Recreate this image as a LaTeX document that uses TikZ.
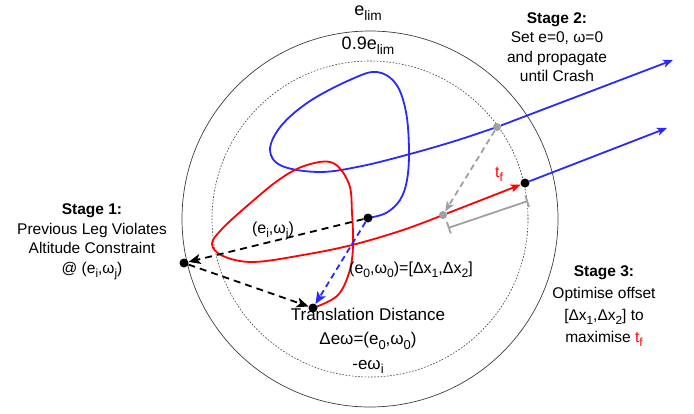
\documentclass[tikz,border=0pt]{standalone}
\usepackage{fontspec}
\usepackage{graphicx}
\setmainfont{Liberation Sans}
\usetikzlibrary{arrows.meta}
\definecolor{myblue}{RGB}{40,40,255}
\definecolor{myred}{RGB}{255,0,0}
\definecolor{mygray}{RGB}{160,160,160}
\definecolor{circgray}{RGB}{60,60,60}
\newcommand\sbs[1]{\raisebox{-0.5ex}{\scalebox{0.76}{#1}}}
\begin{document}
\begin{tikzpicture}[x=1pt,y=-1pt,
  bdot/.style={circle,fill=black,inner sep=0pt,minimum size=9pt},
  gdot/.style={circle,fill=mygray,inner sep=0pt,minimum size=8pt},
  traj/.style={line width=1.8pt},
  tip/.style={-{Stealth[length=10pt,width=8pt,inset=2.5pt]}},
  bigtip/.style={-{Stealth[length=12pt,width=10pt,inset=3pt]}},
  blkdash/.style={line width=1.8pt,dash pattern=on 7pt off 5pt},
  lbl/.style={font=\fontsize{16}{19}\selectfont,inner sep=1pt},
  stagetxt/.style={align=center,font=\fontsize{15.5}{19.5}\selectfont,inner sep=1pt},
  limtxt/.style={font=\fontsize{18}{20}\selectfont,inner sep=1pt}]
\useasboundingbox (0,0) rectangle (694,413);

% circles
\node[circle,draw=circgray,line width=0.7pt,minimum size=376pt,inner sep=0pt] (outer) at (370,219) {};
\node[circle,draw=circgray,line width=0.6pt,dash pattern=on 1.6pt off 1.6pt,minimum size=316pt,inner sep=0pt] (inner) at (370,219) {};

% labels on circles
\node[limtxt] (elim) at (368,13) {e\sbs{lim}};
\node[limtxt] (elim9) at (368,46) {0.9e\sbs{lim}};

% key point coordinates
\coordinate (pd1) at (368,218);
\coordinate (pd0) at (313,308);
\coordinate (pplane) at (184,263);
\coordinate (pg1) at (497,127);
\coordinate (pg2) at (443,215);
\coordinate (pd2) at (525,183);
\coordinate (tipB1) at (673,60);
\coordinate (tipB2) at (667,128);
\coordinate (b1) at (448,228);
\coordinate (b2) at (528,201);

% blue trajectory
\draw[traj,myblue] plot[smooth,tension=0.6] coordinates {
 (368,218) (386,213) (400,200) (407,180) (409,150) (406,112) (396,84) (377,72)
 (352,79) (310,101) (281,126) (270,150) (282,166) (320,172) (362,166) (410,154)
 (455,141) (497,127)};

% red trajectory
\draw[traj,myred] plot[smooth,tension=0.6] coordinates {
 (313,308) (337,296) (349,273) (353,247) (352,213) (349,184) (333,163) (307,165)
 (280,179) (247,206) (222,229) (212,244) (223,256) (253,262) (303,255) (352,245)
 (403,230) (443,215)};

% dots on top
\node[bdot] (d1) at (pd1) {};
\node[bdot] (d0) at (pd0) {};
\node[bdot] (plane) at (pplane) {};
\node[gdot] (g1) at (pg1) {};
\node[gdot] (g2) at (pg2) {};
\node[bdot] (d2) at (pd2) {};

\draw[traj,myblue,tip] (g1) -- (tipB1);
\draw[traj,myblue,tip] (d2) -- (tipB2);
\draw[traj,myred,tip] (g2) -- (d2);

% dashed arrows
\draw[blkdash,bigtip] (d1) -- (plane);
\draw[blkdash,bigtip] (plane) -- (d0);
\draw[line width=1.8pt,dash pattern=on 6pt off 4pt,myblue,bigtip] (d1) -- (d0);
\draw[line width=1.8pt,dash pattern=on 6pt off 4pt,mygray,tip] (g1) -- (g2);

% bracket
\draw[mygray,line width=1.8pt,{Bar[width=12pt]}-{Bar[width=12pt]}] (b1) -- (b2);

% text
\node[lbl] (eiwj) at (273,231) {(e\sbs{i},ω\sbs{j})};
\node[lbl] (e0w0) at (411,270) {(e\sbs{0},ω\sbs{0})=[Δx\sbs{1},Δx\sbs{2}]};
\node[align=center,font=\fontsize{17}{24.5}\selectfont,inner sep=1pt] (trans) at (368,341)
  {Translation Distance\\Δeω=(e\sbs{0},ω\sbs{0})\\-eω\sbs{i}};
\node[font=\fontsize{16}{19}\selectfont,text=myred,inner sep=1pt] (tf) at (499,174) {t\sbs{f}};

\node[stagetxt] (s1) at (92,242) {\textbf{Stage 1:}\\Previous Leg Violates\\Altitude Constraint\\@ (e\sbs{i},ω\sbs{j})};
\node[stagetxt] (s2) at (557,47) {\textbf{Stage 2:}\\Set e=0, ω=0\\and propagate\\until Crash};
\node[align=center,font=\fontsize{15.5}{22}\selectfont,inner sep=1pt] (s3) at (604,306) {\textbf{Stage 3:}\\Optimise offset\\{}[Δx\sbs{1},Δx\sbs{2}] to\\maximise \textcolor{myred}{t\sbs{f}}};
\end{tikzpicture}
\end{document}
